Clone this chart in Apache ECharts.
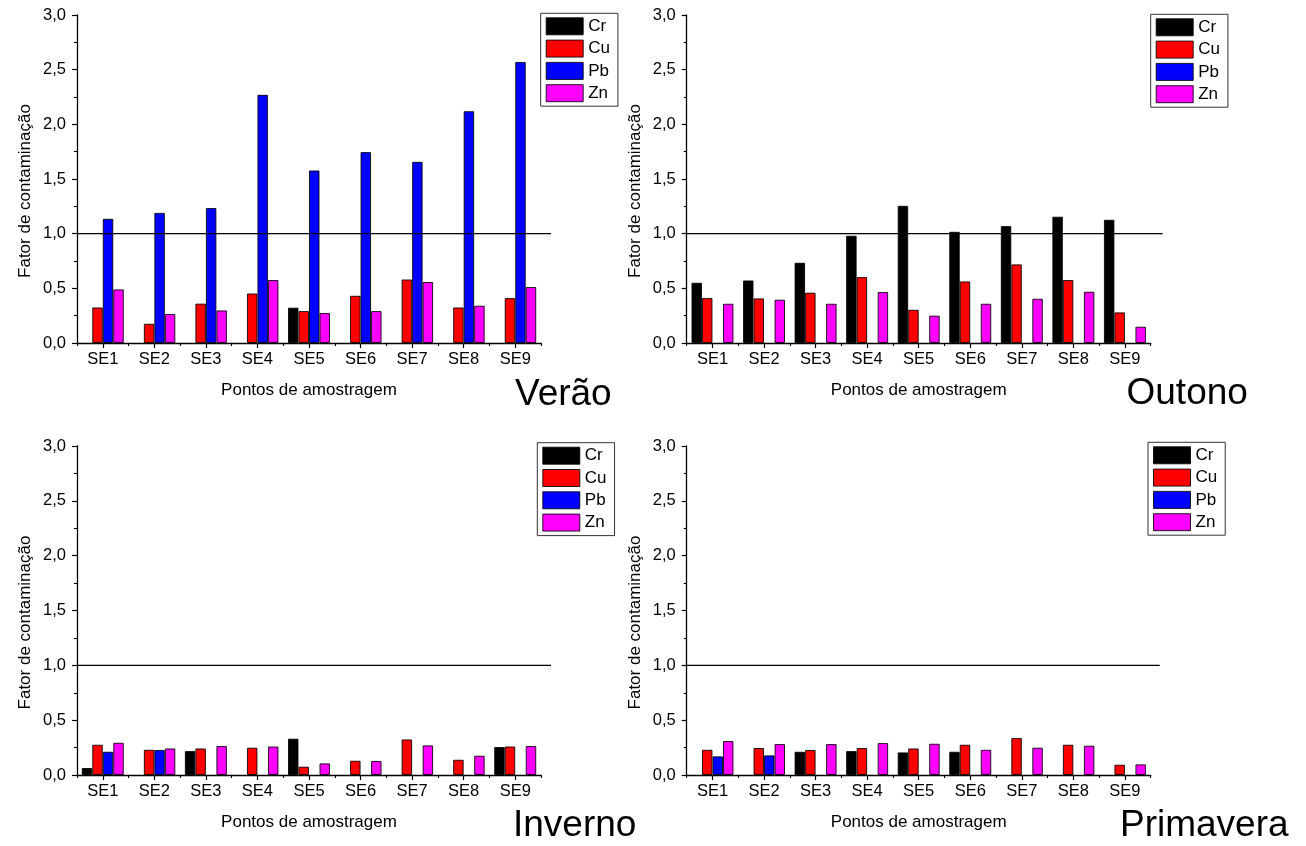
<!DOCTYPE html>
<html>
<head>
<meta charset="utf-8">
<title>Fator de contaminação por estação</title>
<script src="https://cdn.jsdelivr.net/npm/echarts@6/dist/echarts.min.js"></script>
<style>
  html, body { margin: 0; padding: 0; background: #fff; }
  #chart { width: 1306px; height: 846px; }
</style>
</head>
<body>
<div id="chart"></div>
<script>
// Sampling points
const categories = ['SE1', 'SE2', 'SE3', 'SE4', 'SE5', 'SE6', 'SE7', 'SE8', 'SE9'];
const elements = ['Cr', 'Cu', 'Pb', 'Zn'];
const elementColors = ['#000000', '#ff0000', '#0000ff', '#ff00ff'];
const yTicks = [0, 0.5, 1.0, 1.5, 2.0, 2.5, 3.0];
const threshold = 1.0;

// Contamination factor per season (null = not detected)
const veraoCr = [null, null, null, null, 0.323, null, null, null, null];
const veraoCu = [0.325, 0.176, 0.360, 0.453, 0.292, 0.432, 0.581, 0.325, 0.411];
const veraoPb = [1.136, 1.190, 1.234, 2.270, 1.578, 1.746, 1.657, 2.120, 2.571];
const veraoZn = [0.490, 0.265, 0.298, 0.576, 0.274, 0.292, 0.558, 0.341, 0.512];

const outonoCr = [0.551, 0.572, 0.734, 0.981, 1.255, 1.017, 1.069, 1.155, 1.127];
const outonoCu = [0.411, 0.408, 0.460, 0.603, 0.304, 0.563, 0.719, 0.576, 0.280];
const outonoPb = [null, null, null, null, null, null, null, null, null];
const outonoZn = [0.359, 0.396, 0.359, 0.466, 0.250, 0.359, 0.405, 0.469, 0.149];

const invernoCr = [0.064, null, 0.218, null, 0.331, null, null, null, 0.255];
const invernoCu = [0.276, 0.230, 0.242, 0.249, 0.076, 0.130, 0.324, 0.139, 0.260];
const invernoPb = [0.212, 0.228, null, null, null, null, null, null, null];
const invernoZn = [0.294, 0.242, 0.264, 0.260, 0.106, 0.128, 0.270, 0.176, 0.264];

const primaveraCr = [null, null, 0.212, 0.218, 0.206, 0.212, null, null, null];
const primaveraCu = [0.230, 0.246, 0.228, 0.246, 0.242, 0.276, 0.337, 0.276, 0.094];
const primaveraPb = [0.170, 0.179, null, null, null, null, null, null, null];
const primaveraZn = [0.310, 0.282, 0.282, 0.291, 0.285, 0.230, 0.249, 0.267, 0.097];

const seasons = ['Verão', 'Outono', 'Inverno', 'Primavera'];
const seasonData = [
  [veraoCr, veraoCu, veraoPb, veraoZn],
  [outonoCr, outonoCu, outonoPb, outonoZn],
  [invernoCr, invernoCu, invernoPb, invernoZn],
  [primaveraCr, primaveraCu, primaveraPb, primaveraZn]
];

const FONT = '"Liberation Sans", Arial, Helvetica, sans-serif';

// Panel geometry: plot area, reference-line extent, legend box, season label
const panels = [
  { left: 77,    top: 15,  width: 464, height: 328, lineWidth: 474, legend: [540.7, 13.3], label: [515, 394.5] },
  { left: 686.7, top: 15,  width: 464, height: 328, lineWidth: 476, legend: [1150.7, 14.3], label: [1126.5, 394] },
  { left: 77,    top: 446, width: 464, height: 329, lineWidth: 474, legend: [537.3, 442.7], label: [513, 825.5] },
  { left: 686.7, top: 446, width: 464, height: 329, lineWidth: 473, legend: [1148, 442.3], label: [1120, 825.5] }
];

const grid = [], xAxis = [], yAxis = [], series = [], legend = [], graphic = [];

panels.forEach((p, i) => {
  grid.push({ left: p.left, top: p.top, width: p.width, height: p.height, containLabel: false });
});
panels.forEach((p, i) => {
  // wider companion grid that carries the threshold line
  grid.push({ left: p.left, top: p.top, width: p.lineWidth, height: p.height, containLabel: false });
});

// Main category axes (labels + centre ticks)
panels.forEach((p, i) => {
  xAxis.push({
    type: 'category', gridIndex: i, data: categories, position: 'bottom',
    name: 'Pontos de amostragem', nameLocation: 'middle', nameGap: 39,
    nameTextStyle: { fontFamily: FONT, fontSize: 17, color: '#000' },
    axisLine: { show: true, lineStyle: { color: '#000', width: 1.3 } },
    axisTick: { show: true, alignWithLabel: true, inside: false, length: 5, lineStyle: { color: '#000', width: 1.2 } },
    axisLabel: { fontFamily: FONT, fontSize: 16.5, color: '#000', margin: 8 },
    splitLine: { show: false }
  });
});
// Companion category axes: short ticks on the category boundaries
panels.forEach((p, i) => {
  xAxis.push({
    type: 'category', gridIndex: i, data: categories, position: 'bottom', offset: 0,
    axisLine: { show: false },
    axisTick: { show: true, alignWithLabel: false, inside: false, length: 3, lineStyle: { color: '#000', width: 1.1 } },
    axisLabel: { show: false },
    splitLine: { show: false }
  });
});
// Hidden value axes for the threshold line
panels.forEach((p, i) => {
  xAxis.push({ type: 'value', gridIndex: 4 + i, min: 0, max: 1, show: false });
});

panels.forEach((p, i) => {
  yAxis.push({
    type: 'value', gridIndex: i, min: yTicks[0], max: yTicks[yTicks.length - 1], interval: 0.5,
    name: 'Fator de contaminação', nameLocation: 'middle', nameGap: 43, nameRotate: 90,
    nameTextStyle: { fontFamily: FONT, fontSize: 17, color: '#000', padding: [0, 24, 0, 0] },
    axisLine: { show: true, lineStyle: { color: '#000', width: 1.3 } },
    axisTick: { show: true, inside: false, length: 5, lineStyle: { color: '#000', width: 1.2 } },
    minorTick: { show: true, splitNumber: 2, length: 3, lineStyle: { color: '#000', width: 1.1 } },
    axisLabel: {
      fontFamily: FONT, fontSize: 16.5, color: '#000', margin: 11,
      formatter: v => v.toFixed(1).replace('.', ',')
    },
    splitLine: { show: false }
  });
});
panels.forEach((p, i) => {
  yAxis.push({ type: 'value', gridIndex: 4 + i, min: yTicks[0], max: yTicks[yTicks.length - 1], show: false });
});

// Bars
seasonData.forEach((set, i) => {
  set.forEach((values, k) => {
    series.push({
      type: 'bar', name: elements[k], xAxisIndex: i, yAxisIndex: i,
      data: values,
      barGap: '0%', barCategoryGap: '18.5%',
      itemStyle: { color: elementColors[k], borderColor: 'rgba(0,0,0,0.85)', borderWidth: 1 },
      emphasis: { disabled: true },
      animation: false
    });
  });
});

// Threshold line at 1,0
panels.forEach((p, i) => {
  series.push({
    type: 'line', xAxisIndex: 8 + i, yAxisIndex: 4 + i,
    data: [[0, threshold], [1, threshold]],
    symbol: 'none', silent: true, z: 5,
    lineStyle: { color: '#000', width: 1.4 },
    animation: false
  });
});

// Legends
panels.forEach((p, i) => {
  legend.push({
    data: elements, orient: 'vertical',
    left: p.legend[0], top: p.legend[1],
    itemWidth: 37, itemHeight: 17, itemGap: 4.3,
    padding: [4, 8, 4, 5],
    borderColor: '#333', borderWidth: 1, backgroundColor: '#fff',
    icon: 'rect',
    itemStyle: { borderColor: 'rgba(0,0,0,0.85)', borderWidth: 1 },
    textStyle: { fontFamily: FONT, fontSize: 17, color: '#000', lineHeight: 17, padding: [0, 0, 0, 0] },
    selectedMode: false
  });
});

// Season labels
panels.forEach((p, i) => {
  graphic.push({
    type: 'text', x: p.label[0], y: p.label[1], z: 10,
    style: { text: seasons[i], font: '37px ' + FONT, fill: '#000', textAlign: 'left', textVerticalAlign: 'middle', verticalAlign: 'middle' }
  });
});

const chart = echarts.init(document.getElementById('chart'), null, { renderer: 'canvas' });
chart.setOption({
  animation: false,
  backgroundColor: '#fff',
  grid, xAxis, yAxis, series, legend, graphic
});
</script>
</body>
</html>
